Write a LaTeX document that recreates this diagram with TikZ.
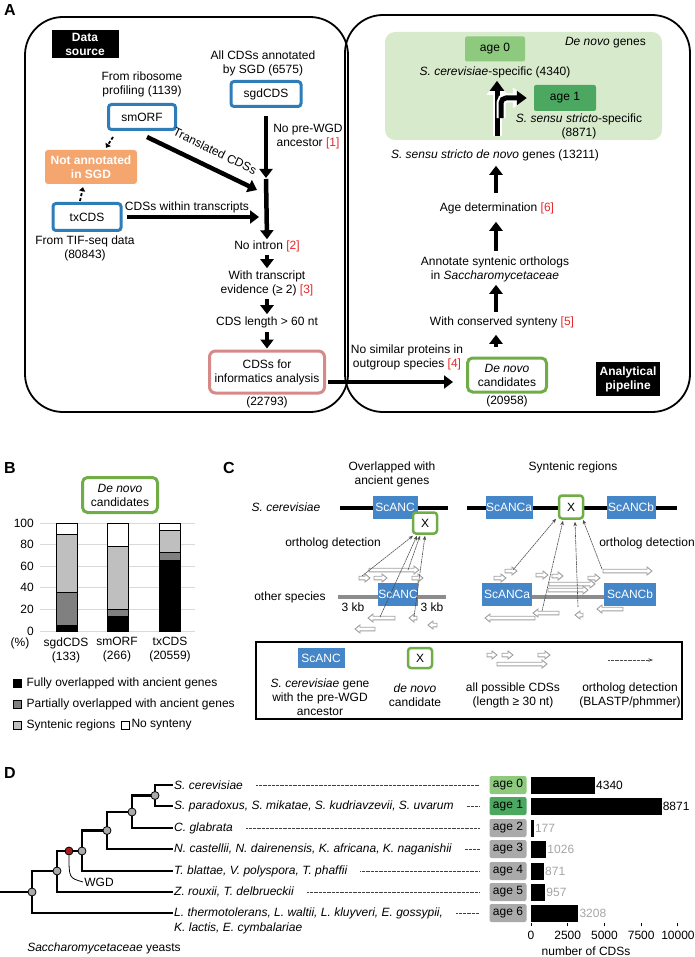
\documentclass[tikz,border=0pt]{standalone}
\usepackage{fontspec}
\setmainfont{Liberation Sans}
\usetikzlibrary{arrows.meta,positioning,calc}

\definecolor{cdsblue}{RGB}{46,125,185}
\definecolor{ancblue}{RGB}{68,134,200}
\definecolor{boxgreen}{RGB}{112,173,71}
\definecolor{infopink}{RGB}{214,137,137}
\definecolor{notorange}{RGB}{244,166,110}
\definecolor{bggreen}{RGB}{216,234,204}
\definecolor{agezero}{RGB}{141,202,125}
\definecolor{ageone}{RGB}{76,168,96}
\definecolor{agegray}{RGB}{170,170,170}
\definecolor{refred}{RGB}{230,40,40}
\definecolor{partgray}{RGB}{128,128,128}
\definecolor{syngray}{RGB}{191,191,191}
\definecolor{gridgray}{RGB}{217,217,217}
\definecolor{chromgray}{RGB}{140,140,140}
\definecolor{cdsgray}{RGB}{160,160,160}
\definecolor{valgray}{RGB}{165,165,165}
\definecolor{wgdred}{RGB}{165,30,30}

\newcommand{\refn}[1]{\textcolor{refred}{[#1]}}
% hollow CDS arrows: from x1 to x2 at height y
\newcommand{\cdsr}[3]{\draw[cdsarrow] (#1,#3-1.8) -- (#2-5,#3-1.8) -- (#2-5,#3-4) -- (#2,#3) -- (#2-5,#3+4) -- (#2-5,#3+1.8) -- (#1,#3+1.8) -- cycle;}
\newcommand{\cdsl}[3]{\draw[cdsarrow] (#2,#3-1.8) -- (#1+5,#3-1.8) -- (#1+5,#3-4) -- (#1,#3) -- (#1+5,#3+4) -- (#1+5,#3+1.8) -- (#2,#3+1.8) -- cycle;}
\newcommand{\cdsbar}[4]{%
  \draw[barline, fill=black] (#1,631) rectangle (#1+21,631-1.08*#2);
  \draw[barline, fill=partgray] (#1,631-1.08*#2) rectangle (#1+21,631-1.08*#3);
  \draw[barline, fill=syngray] (#1,631-1.08*#3) rectangle (#1+21,631-1.08*#4);
  \draw[barline, fill=white] (#1,631-1.08*#4) rectangle (#1+21,523);}

\begin{document}
\begin{tikzpicture}[x=1pt, y=-1pt,
    font=\fontsize{12}{14}\selectfont,
    txt/.style={align=center, inner sep=1pt},
    panel/.style={font=\fontsize{16}{16}\selectfont\bfseries, inner sep=0pt},
    tag/.style={fill=black, text=white, font=\fontsize{12}{14}\selectfont\bfseries, align=center, inner sep=1pt},
    cdsbox/.style={draw=cdsblue, line width=3pt, rounded corners=3pt, fill=white, minimum height=25pt, inner sep=1pt},
    greenbox/.style={draw=boxgreen, line width=3pt, rounded corners=5pt, fill=white, align=center, inner sep=1pt},
    bigbox/.style={line width=1.8pt, rounded corners=38pt},
    fat/.style={line width=4.5pt, -{Triangle[length=9pt, width=13pt]}},
    wfat/.style={line width=5pt, -{Triangle[length=10pt, width=14pt]},
        preaction={draw=white, line width=9pt, -{Triangle[length=14pt, width=20pt]}}},
    dasharr/.style={line width=1.8pt, dash pattern=on 3pt off 2pt, -{Triangle[length=4pt, width=6pt]}},
    agebox/.style={rounded corners=2pt, minimum width=37pt, minimum height=18pt, inner sep=0pt},
    anc/.style={fill=ancblue, text=white, inner sep=0pt, minimum height=23pt},
    xbox/.style={draw=boxgreen, line width=2.5pt, rounded corners=3pt, fill=white, minimum width=24pt, minimum height=21pt, inner sep=0pt},
    chrom/.style={line width=4pt},
    cdsarrow/.style={draw=cdsgray, fill=white, line width=0.9pt},
    orth/.style={draw=black!70, line width=0.6pt, dash pattern=on 2pt off 0.6pt, -{Stealth[length=4.5pt, width=3.5pt]}},
    barline/.style={line width=1pt},
    gridline/.style={draw=gridgray, line width=0.8pt},
    legsq/.style={draw=black, line width=0.8pt, minimum size=8pt, inner sep=0pt},
    legtxt/.style={inner sep=1pt},
    branch/.style={line width=2.5pt},
    treedot/.style={circle, draw=black, line width=0.8pt, fill=agegray, minimum size=8pt, inner sep=0pt},
    species/.style={font=\fontsize{12}{14}\selectfont\itshape, anchor=west, inner sep=1pt},
    leader/.style={draw=black!75, line width=0.8pt, dash pattern=on 0.8pt off 0.5pt, shorten <=12pt, shorten >=10pt}
]
\useasboundingbox (0,0) rectangle (695,957);

%% A
\node[panel] (pa) at (10,10) {A};
\draw[bigbox] (25,17) rectangle (348,412);
\draw[bigbox] (345,15) rectangle (690,412);
\node[tag, minimum width=67pt, minimum height=28pt] (src) at (85,44) {Data\\source};
\node[tag, minimum width=64pt, minimum height=34pt] (apipe) at (628,379) {Analytical\\pipeline};

\node[txt] (sgdlbl) at (263,63) {All CDSs annotated\\by SGD (6575)};
\node[cdsbox, minimum width=70pt] (sgd) at (266,94) {sgdCDS};
\node[txt] (ribolbl) at (142,84) {From ribosome\\profiling (1139)};
\node[cdsbox, minimum width=67pt] (smorf) at (142,117) {smORF};
\node[fill=notorange, text=white, rounded corners=3pt, font=\fontsize{12}{14}\selectfont\bfseries,
      align=center, minimum width=92pt, minimum height=34pt, inner sep=1pt] (notann) at (91,167) {Not annotated\\in SGD};
\node[cdsbox, minimum width=68pt, minimum height=27pt] (tx) at (87,217) {txCDS};
\node[txt] (tiflbl) at (85,248) {From TIF-seq data\\(80843)};

\draw[dasharr] ($(smorf.south)+(-29,6)$) -- ($(notann.north)+(15,-2)$);
\draw[dasharr] ($(tx.north)+(-7,-1)$) -- ($(notann.south)+(-8,3)$);

\coordinate (j1) at (266,178);
\draw[fat, shorten <=8pt] (sgd.south) -- (j1);
\node[txt] (prewgd) at (308,137) {No pre-WGD\\ancestor \refn{1}};
\draw[fat] ($(smorf.south)+(5,6)$) -- ($(j1)+(-9,12)$);
\node[txt, rotate=-26] (transl) at (215,151) {Translated CDSs};
\draw[fat, shorten <=4pt] (tx.east) -- ($(j1)+(-7,39)$);
\node[txt] (within) at (187,207) {CDSs within transcripts};

\node[txt] (nointron) at (267,246) {No intron \refn{2}};
\draw[fat, shorten <=1pt] (j1) -- (nointron.north);
\node[txt] (evid) at (267,283) {With transcript\\evidence (≥ 2) \refn{3}};
\node[txt] (len60) at (267,322) {CDS length > 60 nt};
\node[draw=infopink, line width=3pt, rounded corners=6pt, fill=white, align=center,
      minimum width=115pt, minimum height=42pt, inner sep=1pt] (info) at (267,372) {CDSs for\\informatics analysis};
\node[txt] (infon) at (267,402) {(22793)};
\draw[fat, shorten <=2pt, shorten >=1pt] (nointron) -- (evid);
\draw[fat, shorten <=2pt, shorten >=1pt] (evid) -- (len60);
\draw[fat, shorten <=3pt, shorten >=1pt] (len60) -- (info);

\node[greenbox, minimum width=79pt, minimum height=34pt] (dncand) at (507,375) {\textit{De novo}\\candidates};
\node[txt] (dnn) at (507,401) {(20958)};
\draw[fat, shorten <=2pt, shorten >=13pt] (info.east |- 0,382) -- (dncand.west |- 0,382);
\node[txt] (outgrp) at (407,357) {No similar proteins in\\outgroup species \refn{4}};

\coordinate (px) at (496,0);
\node[txt] (synt) at (502,322) {With conserved synteny \refn{5}};
\node[txt] (annot) at (495,269) {Annotate syntenic orthologs\\in \textit{Saccharomycetaceae}};
\node[txt] (agedet) at (497,208) {Age determination \refn{6}};
\node[txt] (ssdn) at (495,155) {\textit{S. sensu stricto de novo} genes (13211)};
\draw[fat, shorten <=10pt, shorten >=6pt] (dncand.north -| px) -- (synt.south -| px);
\draw[fat, shorten <=3pt, shorten >=2pt] (synt.north -| px) -- (annot.south -| px);
\draw[fat, shorten <=4pt, shorten >=7pt] (annot.north -| px) -- (agedet.south -| px);
\draw[fat, shorten <=8pt, shorten >=4pt] (agedet.north -| px) -- (ssdn.south -| px);

\fill[bggreen, rounded corners=10pt] (385,32) rectangle (662,140);
\node[txt, anchor=east] (dngenes) at (647,43) {\textit{De novo} genes};
\node[agebox, fill=agezero, minimum width=60pt, minimum height=25pt] (agezA) at (495,49) {age 0};
\node[txt] (cerspec) at (495,72) {\textit{S. cerevisiae}-specific (4340)};
\node[agebox, fill=ageone, minimum width=62pt, minimum height=26pt] (ageoA) at (565,98) {age 1};
\node[txt] (ssspec) at (579,126) {\textit{S. sensu stricto}-specific\\(8871)};
\draw[wfat] ($(ssdn.north -| px)+(1,-12)$) -- ($(cerspec.south -| px)+(1,2)$);
\draw[wfat, rounded corners=5pt] ($(ssdn.north -| px)+(5,-30)$) |- ($(ageoA.west)+(-7,0)$);

%% B
\node[panel] (pb) at (10,468) {B};
\node[greenbox, minimum width=75pt, minimum height=35pt] (bdn) at (120,495) {\textit{De novo}\\candidates};
\foreach \v in {0,20,...,100} {
  \draw[gridline] (40,631-1.08*\v) -- (195,631-1.08*\v);
  \node[txt, anchor=east] (yt\v) at (35,631-1.08*\v) {\v};
}
\cdsbar{56}{5}{36}{89}
\cdsbar{107}{13}{20}{78}
\cdsbar{159}{65}{73}{93}
\node[txt] (pct) at (20,643) {(\%)};
\node[txt] (xsgd) at (66,650) {sgdCDS\\(133)};
\node[txt] (xsm) at (117,650) {smORF\\(266)};
\node[txt] (xtx) at (170,650) {txCDS\\(20559)};
\node[legsq, fill=black] (leg1) at (17,683) {};
\node[legtxt, right=4pt of leg1] (legt1) {Fully overlapped with ancient genes};
\node[legsq, fill=partgray] (leg2) at (17,704) {};
\node[legtxt, right=4pt of leg2] (legt2) {Partially overlapped with ancient genes};
\node[legsq, fill=syngray] (leg3) at (17,725) {};
\node[legtxt, right=4pt of leg3] (legt3) {Syntenic regions};
\node[legsq, fill=white, right=4pt of legt3] (leg4) {};
\node[legtxt, right=1pt of leg4] (legt4) {No synteny};

%% C
\node[panel] (pc) at (229,468) {C};
\node[txt] (ovl) at (392,474) {Overlapped with\\ancient genes};
\node[txt] (synr) at (573,467) {Syntenic regions};
\node[txt] (scer) at (286,507) {\textit{S. cerevisiae}};
\node[txt] (oth) at (290,597) {other species};

\draw[chrom] (340,508) -- (448,508);
\draw[chrom] (467,508) -- (677,508);
\draw[chrom, draw=chromgray] (338,597) -- (446,597);
\draw[chrom, draw=chromgray] (532,597) -- (604,597);

\node[anc, minimum width=45pt] (scL) at (395,507) {ScANC};
\node[xbox] (xL) at (425,523) {X};
\node[anc, minimum width=47pt] (scA) at (509,507) {ScANCa};
\node[xbox, minimum height=23pt] (xR) at (571,507) {X};
\node[anc, minimum width=49pt] (scB) at (631,507) {ScANCb};
\node[anc, minimum width=38pt] (oscL) at (398,594) {ScANC};
\node[anc, minimum width=50pt] (oscA) at (507,594) {ScANCa};
\node[anc, minimum width=52pt] (oscB) at (630,594) {ScANCb};
\node[txt] (kbL) at (353,607) {3 kb};
\node[txt] (kbR) at (432,607) {3 kb};
\node[txt] (odL) at (333,543) {ortholog detection};
\node[txt] (odR) at (647,543) {ortholog detection};

\cdsr{369}{419}{570}
\cdsr{359}{370}{578}
\cdsr{374}{387}{578}
\cdsr{412}{423}{578}
\cdsl{368}{395}{618}
\cdsl{355}{375}{629}
\cdsl{409}{417}{618}
\cdsl{428}{437}{625}

\cdsr{494}{506}{578}
\cdsr{505}{517}{571}
\cdsr{536}{548}{575}
\cdsr{552}{563}{576}
\cdsr{588}{600}{578}
\cdsr{603}{652}{571}
\cdsr{549}{595}{584}
\cdsr{548}{588}{590}
\cdsl{485}{535}{618}
\cdsl{533}{559}{613}
\cdsl{575}{583}{615}
\cdsl{597}{623}{609}

\coordinate (o1) at (362,576);
\coordinate (o2) at (408,570);
\coordinate (o3) at (380,617);
\coordinate (o4) at (414,617);
\draw[orth] (o1) -- ($(xL.south)+(-12,1)$);
\draw[orth] (o2) -- ($(xL.south)+(-5,1)$);
\draw[orth] (o3) -- ($(xL.south)+(-8,1)$);
\draw[orth] (o4) -- ($(xL.south)+(0,1)$);
\coordinate (o5) at (513,570);
\coordinate (o6) at (542,611);
\coordinate (o7) at (578,607);
\coordinate (o8) at (602,569);
\draw[orth] (o5) -- ($(xR.south)+(-15,-1)$);
\draw[orth] (o6) -- ($(xR.south)+(-8,1)$);
\draw[orth] (o7) -- ($(xR.south)+(4,2)$);
\draw[orth] (o8) -- ($(xR.south)+(12,0)$);

\draw[line width=2pt] (256,642) rectangle (682,719);
\node[anc, minimum width=47pt, minimum height=20pt] (lgAnc) at (321,658) {ScANC};
\node[txt] (lgAnct) at (320,697) {\textit{S. cerevisiae} gene\\with the pre-WGD\\ancestor};
\node[xbox, minimum height=20pt] (lgX) at (420,658) {X};
\node[txt] (lgXt) at (415,695) {\textit{de novo}\\candidate};
\cdsr{487}{497}{655}
\cdsr{502}{513}{655}
\cdsr{538}{550}{655}
\cdsr{497}{547}{664}
\node[txt] (lgCdst) at (513,695) {all possible CDSs\\(length ≥ 30 nt)};
\coordinate (lgO1) at (608,660);
\coordinate (lgO2) at (653,660);
\draw[orth, dash pattern=on 0.8pt off 0.5pt] (lgO1) -- (lgO2);
\node[txt] (lgOt) at (630,695) {ortholog detection\\(BLASTP/phmmer)};

%% D
\node[panel] (pd) at (10,773) {D};
\node[species] (sp0) at (173,785) {S. cerevisiae};
\node[species] (sp1) at (173,806) {S. paradoxus, S. mikatae, S. kudriavzevii, S. uvarum};
\node[species] (sp2) at (173,828) {C. glabrata};
\node[species] (sp3) at (173,849) {N. castellii, N. dairenensis, K. africana, K. naganishii};
\node[species] (sp4) at (173,871) {T. blattae, V. polyspora, T. phaffii};
\node[species] (sp5) at (173,892) {Z. rouxii, T. delbrueckii};
\node[species] (sp6) at (173,913) {L. thermotolerans, L. waltii, L. kluyveri, E. gossypii,};
\node[species] (sp6b) at (173,928) {K. lactis, E. cymbalariae};

\coordinate (root) at (0,892);
\coordinate (n0) at (155,795.5);
\coordinate (n1) at (132,812);
\coordinate (n2) at (107,830.5);
\coordinate (n3) at (82,851);
\coordinate (n4) at (57,871);
\coordinate (n5) at (32,892);
\draw[branch] (root) -- (n5);
\draw[branch] (n4) -| (n5) |- (sp6.west);
\draw[branch] (n3) -| (n4) |- (sp5.west);
\draw[branch] (n2) -| (n3) |- (sp4.west);
\draw[branch] (n1) -| (n2) |- (sp3.west);
\draw[branch] (n0) -| (n1) |- (sp2.west);
\draw[branch] (sp0.west) -| (n0) |- (sp1.west);
\foreach \n in {n0,n1,n2,n3,n4,n5} \node[treedot] (d\n) at (\n) {};
\node[treedot, fill=wgdred] (wgddot) at (69,851) {};
\node[txt] (wgd) at (99,882) {WGD};
\draw[line width=0.8pt] (wgddot.south) .. controls (69,878) .. (wgd.west);

\node[agebox, fill=agezero] (age0) at (508,785) {age 0};
\node[agebox, fill=ageone] (age1) at (508,806) {age 1};
\node[agebox, fill=agegray] (age2) at (508,828) {age 2};
\node[agebox, fill=agegray] (age3) at (508,849) {age 3};
\node[agebox, fill=agegray] (age4) at (508,871) {age 4};
\node[agebox, fill=agegray] (age5) at (508,892) {age 5};
\node[agebox, fill=agegray] (age6) at (508,913) {age 6};
\foreach \i in {0,...,6} \draw[leader] (sp\i.east) -- (sp\i.east -| age\i.west);

\foreach \i/\v/\c in {0/4340/black,1/8871/black,2/177/valgray,3/1026/valgray,4/871/valgray,5/957/valgray,6/3208/valgray} {
  \fill ($(age\i.east)+(4.5,-8.5)$) rectangle ($(age\i.east)+(4.5+0.0147*\v,8.5)$);
  \node[anchor=west, text=\c, inner sep=1pt] (val\i) at ($(age\i.east)+(4.5+0.0147*\v,0)$) {\v};
}
\foreach \t in {0,2500,5000,7500,10000} {
  \draw[line width=1pt] (531+0.0147*\t,923) -- (531+0.0147*\t,926);
  \node[txt] (tick\t) at (531+0.0147*\t,935) {\t};
}
\node[txt] (ncds) at (586,951) {number of CDSs};
\node[txt] (yeast) at (104,948) {\textit{Saccharomycetaceae} yeasts};
\end{tikzpicture}
\end{document}
